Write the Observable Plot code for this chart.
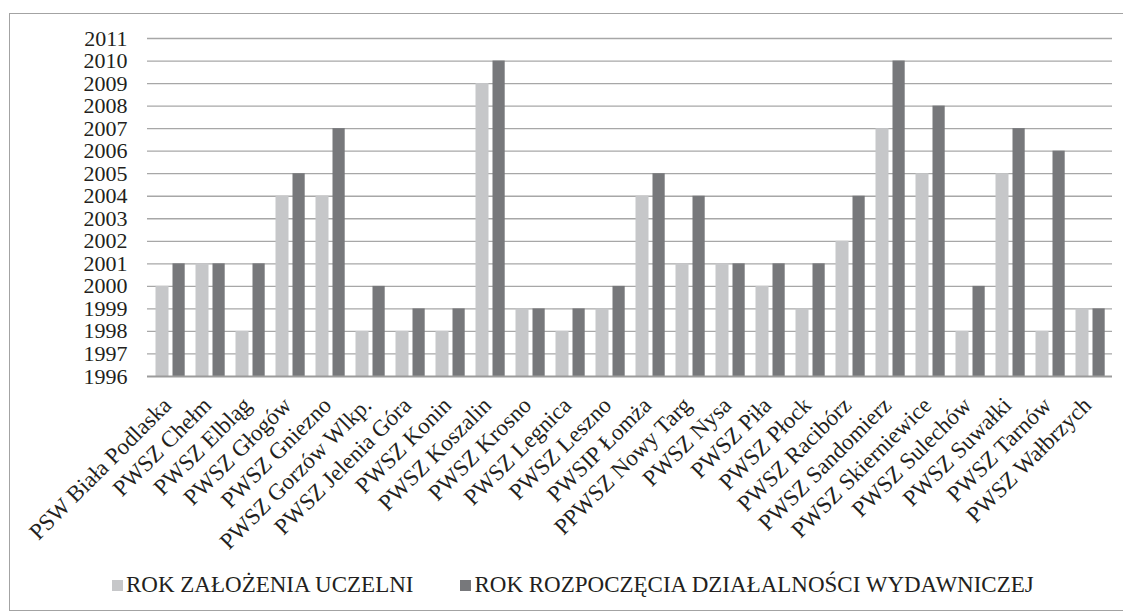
<!DOCTYPE html>
<html>
<head>
<meta charset="utf-8">
<script src="https://cdn.jsdelivr.net/npm/d3@7"></script>
<script src="https://cdn.jsdelivr.net/npm/@observablehq/plot@0.6"></script>
<style>
  html, body { margin: 0; padding: 0; background: #fff; }
  body { width: 1123px; height: 615px; position: relative; overflow: hidden; font-family: "Liberation Serif", "Times New Roman", Times, serif; }
  #frame { position: absolute; left: 9px; top: 13px; width: 1130px; height: 598px; border: 1.5px solid #a3a3a3; box-sizing: border-box; }
  #chart { position: absolute; left: 0; top: 0; }
  #legend { position: absolute; left: 112px; top: 572px; display: flex; align-items: center; font-size: 23px; color: #231f20; white-space: nowrap; }
  .item { display: flex; align-items: center; }
  .sw { width: 11px; height: 11px; display: inline-block; margin-right: 3px; }
</style>
</head>
<body>
<div id="frame"></div>
<div id="chart"></div>
<div id="legend"></div>
<script>
const categories = [
  "PSW Biała Podlaska", "PWSZ Chełm", "PWSZ Elbląg", "PWSZ Głogów", "PWSZ Gniezno",
  "PWSZ Gorzów Wlkp.", "PWSZ Jelenia Góra", "PWSZ Konin", "PWSZ Koszalin", "PWSZ Krosno",
  "PWSZ Legnica", "PWSZ Leszno", "PWSIP Łomża", "PPWSZ Nowy Targ", "PWSZ Nysa",
  "PWSZ Piła", "PWSZ Płock", "PWSZ Racibórz", "PWSZ Sandomierz", "PWSZ Skierniewice",
  "PWSZ Sulechów", "PWSZ Suwałki", "PWSZ Tarnów", "PWSZ Wałbrzych"
];
const rokZalozenia = [2000, 2001, 1998, 2004, 2004, 1998, 1998, 1998, 2009, 1999, 1998, 1999, 2004, 2001, 2001, 2000, 1999, 2002, 2007, 2005, 1998, 2005, 1998, 1999];
const rokWydawnictwa = [2001, 2001, 2001, 2005, 2007, 2000, 1999, 1999, 2010, 1999, 1999, 2000, 2005, 2004, 2001, 2001, 2001, 2004, 2010, 2008, 2000, 2007, 2006, 1999];
const seriesNames = ["ROK ZAŁOŻENIA UCZELNI", "ROK ROZPOCZĘCIA DZIAŁALNOŚCI WYDAWNICZEJ"];
const seriesColors = ["#c6c7c9", "#77787b"];
const yTicks = [1996, 1997, 1998, 1999, 2000, 2001, 2002, 2003, 2004, 2005, 2006, 2007, 2008, 2009, 2010, 2011];
const baseYear = 1996;

const dataA = categories.map((c, i) => ({cat: c, v: rokZalozenia[i]}));
const dataB = categories.map((c, i) => ({cat: c, v: rokWydawnictwa[i]}));

const serif = "'Liberation Serif', 'Times New Roman', Times, serif";
const chart = Plot.plot({
  width: 1123,
  height: 560,
  marginLeft: 147,
  marginRight: 11,
  marginTop: 38,
  marginBottom: 184,
  style: {fontFamily: serif, background: "transparent", color: "#231f20"},
  x: {domain: categories, padding: 0, label: null},
  y: {domain: [yTicks[0], yTicks[yTicks.length - 1]], label: null},
  marks: [
    Plot.ruleY(yTicks.slice(1), {stroke: "#a7a7a7", strokeWidth: 1.3}),
    Plot.barY(dataA, {x: "cat", y1: baseYear, y2: "v", fill: seriesColors[0], insetLeft: 5.5, insetRight: 21.5}),
    Plot.barY(dataB, {x: "cat", y1: baseYear, y2: "v", fill: seriesColors[1], insetLeft: 22.5, insetRight: 5.3}),
    Plot.ruleY([baseYear], {stroke: "#9b9b9b", strokeWidth: 2}),
    Plot.axisY({ticks: yTicks, tickFormat: d => String(d), tickSize: 0, tickPadding: 20, fontSize: 22, label: null, fontFamily: serif}),
    Plot.axisX({tickSize: 0, tickRotate: -45, tickPadding: 25, fontSize: 23, label: null, dx: -3, fontFamily: serif})
  ]
});
document.getElementById("chart").appendChild(chart);

const legend = document.getElementById("legend");
seriesNames.forEach((name, i) => {
  const item = document.createElement("div");
  item.className = "item";
  if (i > 0) item.style.marginLeft = "47px";
  const sw = document.createElement("span");
  sw.className = "sw";
  sw.style.background = seriesColors[i];
  const t = document.createElement("span");
  t.textContent = name;
  item.appendChild(sw);
  item.appendChild(t);
  legend.appendChild(item);
});
</script>
</body>
</html>
